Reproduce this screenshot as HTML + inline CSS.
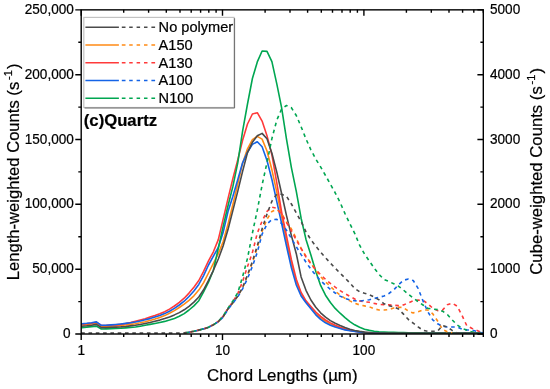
<!DOCTYPE html>
<html><head><meta charset="utf-8"><title>Chart</title>
<style>html,body{margin:0;padding:0;background:#fff;}body{width:550px;height:389px;overflow:hidden;}svg{display:block;will-change:transform;}text{font-family:"Liberation Sans",sans-serif;fill:#000;stroke:#000;stroke-width:0.22px;}</style></head><body>
<svg width="550" height="389" viewBox="0 0 550 389">
<rect width="550" height="389" fill="#fff"/>
<defs><clipPath id="c"><rect x="81.2" y="9.85" width="402.1" height="324.75"/></clipPath></defs>
<g clip-path="url(#c)" fill="none" stroke-linejoin="round" stroke-linecap="butt">
<path d="M81.2,325.0 L81.8,325.0 L86.7,324.6 L91.5,324.0 L96.4,323.2 L101.3,326.5 L106.2,326.4 L111.0,326.2 L115.9,325.9 L120.8,325.5 L125.7,325.0 L130.5,324.4 L135.4,323.7 L140.3,322.8 L145.2,321.7 L150.0,320.5 L154.9,319.1 L159.8,317.5 L164.7,315.6 L169.5,313.3 L174.4,310.6 L179.3,307.5 L184.2,304.2 L189.0,300.3 L193.9,295.8 L198.8,290.1 L203.6,282.6 L208.5,273.0 L213.4,263.3 L218.3,253.7 L223.1,241.7 L228.0,224.1 L232.9,204.4 L237.8,183.7 L242.6,163.2 L247.5,148.8 L252.4,139.6 L257.3,136.4 L262.1,139.1 L267.0,151.0 L271.9,169.8 L276.8,192.1 L281.6,216.3 L286.5,241.1 L291.4,263.9 L296.3,281.8 L301.1,293.9 L306.0,301.6 L310.9,307.6 L315.8,313.4 L320.6,318.0 L325.5,321.4 L330.4,324.0 L335.2,326.2 L340.1,327.9 L345.0,329.4 L349.9,330.4 L354.7,331.3 L359.6,332.0 L364.5,332.6 L369.4,333.0 L374.2,333.0 L379.1,333.0 L384.0,333.0 L388.9,333.0 L393.7,333.0 L398.6,333.0 L403.5,333.0 L408.4,333.0 L413.2,333.0 L418.1,333.0 L423.0,333.0 L427.9,333.0 L432.7,333.0 L437.6,333.0 L442.5,333.0 L447.3,333.0 L452.2,333.0 L457.1,333.0 L462.0,333.0 L466.8,333.0 L471.7,333.0 L476.6,333.0 L481.5,333.0 L483.0,333.0" stroke="#ff8a14" stroke-width="1.6"/>
<path d="M81.2,324.2 L81.8,324.2 L86.7,323.8 L91.5,323.2 L96.4,322.2 L101.3,325.5 L106.2,325.4 L111.0,325.1 L115.9,324.9 L120.8,324.4 L125.7,323.6 L130.5,322.6 L135.4,321.4 L140.3,320.1 L145.2,318.7 L150.0,317.1 L154.9,315.5 L159.8,313.7 L164.7,311.7 L169.5,309.1 L174.4,306.0 L179.3,302.4 L184.2,298.2 L189.0,293.1 L193.9,287.3 L198.8,280.5 L203.6,271.4 L208.5,260.9 L213.4,251.8 L218.3,239.6 L223.1,219.4 L228.0,198.6 L232.9,178.4 L237.8,159.8 L242.6,140.3 L247.5,124.0 L252.4,114.0 L257.3,112.7 L262.1,121.1 L267.0,135.8 L271.9,154.9 L276.8,182.8 L281.6,211.8 L286.5,236.0 L291.4,259.7 L296.3,279.2 L301.1,292.4 L306.0,300.9 L310.9,306.5 L315.8,312.0 L320.6,316.4 L325.5,320.0 L330.4,322.9 L335.2,325.2 L340.1,327.2 L345.0,328.8 L349.9,330.1 L354.7,331.1 L359.6,331.9 L364.5,332.5 L369.4,333.0 L374.2,333.0 L379.1,333.0 L384.0,333.0 L388.9,333.0 L393.7,333.0 L398.6,333.0 L403.5,333.0 L408.4,333.0 L413.2,333.0 L418.1,333.0 L423.0,333.0 L427.9,333.0 L432.7,333.0 L437.6,333.0 L442.5,333.0 L447.3,333.0 L452.2,333.0 L457.1,333.0 L462.0,333.0 L466.8,333.0 L471.7,333.0 L476.6,333.0 L481.5,333.0 L483.0,333.0" stroke="#ff3a3a" stroke-width="1.6"/>
<path d="M81.2,323.7 L81.8,323.7 L86.7,323.3 L91.5,322.7 L96.4,321.9 L101.3,325.3 L106.2,325.2 L111.0,324.9 L115.9,324.5 L120.8,324.0 L125.7,323.4 L130.5,322.8 L135.4,322.0 L140.3,321.0 L145.2,319.8 L150.0,318.6 L154.9,317.1 L159.8,315.5 L164.7,313.6 L169.5,311.3 L174.4,308.4 L179.3,305.0 L184.2,301.2 L189.0,296.5 L193.9,291.0 L198.8,284.4 L203.6,275.6 L208.5,265.0 L213.4,256.1 L218.3,247.5 L223.1,232.6 L228.0,211.6 L232.9,196.3 L237.8,179.6 L242.6,162.8 L247.5,152.2 L252.4,144.4 L257.3,141.7 L262.1,146.8 L267.0,160.5 L271.9,179.5 L276.8,201.6 L281.6,223.3 L286.5,246.0 L291.4,267.9 L296.3,285.0 L301.1,296.0 L306.0,302.8 L310.9,308.7 L315.8,314.8 L320.6,319.4 L325.5,322.8 L330.4,325.2 L335.2,327.1 L340.1,328.6 L345.0,329.9 L349.9,330.8 L354.7,331.5 L359.6,332.1 L364.5,332.6 L369.4,333.0 L374.2,333.0 L379.1,333.0 L384.0,333.0 L388.9,333.0 L393.7,333.0 L398.6,333.0 L403.5,333.0 L408.4,333.0 L413.2,333.0 L418.1,333.0 L423.0,333.0 L427.9,333.0 L432.7,333.0 L437.6,333.0 L442.5,333.0 L447.3,333.0 L452.2,333.0 L457.1,333.0 L462.0,333.0 L466.8,333.0 L471.7,333.0 L476.6,333.0 L481.5,333.0 L483.0,333.0" stroke="#1463e6" stroke-width="1.6"/>
<path d="M81.2,327.6 L81.8,327.6 L86.7,327.1 L91.5,326.6 L96.4,326.1 L101.3,329.0 L106.2,328.9 L111.0,328.7 L115.9,328.5 L120.8,328.3 L125.7,327.9 L130.5,327.5 L135.4,327.0 L140.3,326.2 L145.2,325.3 L150.0,324.4 L154.9,323.5 L159.8,322.5 L164.7,321.4 L169.5,320.0 L174.4,318.4 L179.3,316.3 L184.2,313.6 L189.0,310.0 L193.9,305.9 L198.8,300.7 L203.6,291.8 L208.5,282.1 L213.4,270.2 L218.3,248.3 L223.1,226.7 L228.0,205.8 L232.9,186.4 L237.8,162.7 L242.6,131.2 L247.5,104.0 L252.4,78.5 L257.3,61.9 L262.1,51.0 L267.0,51.4 L271.9,61.7 L276.8,83.9 L281.6,107.7 L286.5,139.2 L291.4,167.6 L296.3,191.3 L301.1,218.2 L306.0,239.4 L310.9,255.1 L315.8,271.6 L320.6,285.4 L325.5,295.2 L330.4,302.5 L335.2,308.4 L340.1,313.2 L345.0,317.6 L349.9,321.6 L354.7,324.8 L359.6,327.3 L364.5,329.2 L369.4,330.4 L374.2,331.3 L379.1,331.8 L384.0,332.0 L388.9,332.2 L393.7,332.4 L398.6,332.5 L403.5,332.6 L408.4,332.7 L413.2,332.8 L418.1,332.9 L423.0,333.0 L427.9,333.0 L432.7,333.0 L437.6,333.0 L442.5,333.0 L447.3,333.0 L452.2,333.0 L457.1,333.0 L462.0,333.0 L466.8,333.0 L471.7,333.0 L476.6,333.0 L481.5,333.0 L483.0,333.0" stroke="#00a651" stroke-width="1.6"/>
<path d="M81.2,326.2 L81.8,326.2 L86.7,325.8 L91.5,325.2 L96.4,324.4 L101.3,327.6 L106.2,327.5 L111.0,327.3 L115.9,327.1 L120.8,326.9 L125.7,326.5 L130.5,325.9 L135.4,325.3 L140.3,324.5 L145.2,323.5 L150.0,322.5 L154.9,321.3 L159.8,320.1 L164.7,318.6 L169.5,316.9 L174.4,314.9 L179.3,312.6 L184.2,309.8 L189.0,306.3 L193.9,302.1 L198.8,297.0 L203.6,289.8 L208.5,280.4 L213.4,270.3 L218.3,259.0 L223.1,246.0 L228.0,229.6 L232.9,210.4 L237.8,191.1 L242.6,171.4 L247.5,152.6 L252.4,142.3 L257.3,135.8 L262.1,133.4 L267.0,138.8 L271.9,153.3 L276.8,172.1 L281.6,193.5 L286.5,215.6 L291.4,235.6 L296.3,253.7 L301.1,276.9 L306.0,290.3 L310.9,300.0 L315.8,307.2 L320.6,312.8 L325.5,317.2 L330.4,320.6 L335.2,323.3 L340.1,325.5 L345.0,327.5 L349.9,329.2 L354.7,330.5 L359.6,331.4 L364.5,332.1 L369.4,332.6 L374.2,333.0 L379.1,333.0 L384.0,333.0 L388.9,333.0 L393.7,333.0 L398.6,333.0 L403.5,333.0 L408.4,333.0 L413.2,333.0 L418.1,333.0 L423.0,333.0 L427.9,333.0 L432.7,333.0 L437.6,333.0 L442.5,333.0 L447.3,333.0 L452.2,333.0 L457.1,333.0 L462.0,333.0 L466.8,333.0 L471.7,333.0 L476.6,333.0 L481.5,333.0 L483.0,333.0" stroke="#4a4a4a" stroke-width="1.6"/>
<path d="M184.2,332.9 L189.0,332.2 L193.9,331.3 L198.8,330.1 L203.6,328.9 L208.5,327.3 L213.4,324.7 L218.3,321.6 L223.1,316.7 L228.0,308.9 L232.9,302.7 L237.8,296.1 L242.6,287.7 L247.5,275.4 L252.4,262.7 L257.3,247.5 L262.1,231.3 L267.0,219.2 L271.9,211.5 L276.8,209.5 L281.6,213.4 L286.5,222.1 L291.4,229.0 L296.3,238.5 L301.1,248.4 L306.0,256.3 L310.9,263.3 L315.8,270.4 L320.6,276.7 L325.5,281.8 L330.4,286.4 L335.2,291.0 L340.1,295.1 L345.0,298.3 L349.9,300.9 L354.7,303.2 L359.6,304.9 L364.5,305.9 L369.4,306.8 L374.2,308.9 L379.1,310.0 L384.0,310.0 L388.9,309.5 L393.7,308.0 L398.6,307.2 L403.5,307.5 L408.4,311.2 L413.2,312.9 L418.1,311.7 L423.0,310.1 L427.9,310.0 L432.7,313.7 L437.6,321.0 L442.5,329.4 L447.3,331.8 L452.2,332.9" stroke="#ff8a14" stroke-width="1.6" stroke-dasharray="3.6 3.7" stroke-dashoffset="1.6"/>
<path d="M184.2,332.9 L189.0,332.2 L193.9,331.3 L198.8,330.1 L203.6,328.9 L208.5,327.3 L213.4,324.7 L218.3,321.5 L223.1,316.2 L228.0,308.4 L232.9,301.7 L237.8,293.6 L242.6,281.5 L247.5,266.6 L252.4,252.6 L257.3,233.1 L262.1,221.1 L267.0,211.4 L271.9,207.2 L276.8,208.3 L281.6,214.6 L286.5,222.4 L291.4,231.2 L296.3,240.0 L301.1,248.5 L306.0,257.0 L310.9,263.8 L315.8,269.6 L320.6,274.7 L325.5,279.3 L330.4,283.5 L335.2,287.2 L340.1,290.6 L345.0,293.7 L349.9,296.4 L354.7,299.0 L359.6,300.9 L364.5,301.7 L369.4,302.3 L374.2,303.4 L379.1,304.4 L384.0,304.7 L388.9,304.9 L393.7,305.3 L398.6,305.6 L403.5,304.9 L408.4,302.8 L413.2,300.8 L418.1,300.1 L423.0,300.4 L427.9,303.8 L432.7,308.2 L437.6,310.6 L442.5,310.1 L447.3,304.7 L452.2,303.2 L457.1,306.1 L462.0,315.3 L466.8,325.7 L471.7,328.3 L476.6,330.3 L481.5,332.4 L483.4,333.0" stroke="#ff3a3a" stroke-width="1.6" stroke-dasharray="3.6 3.7" stroke-dashoffset="3.2"/>
<path d="M184.2,332.9 L189.0,332.2 L193.9,331.3 L198.8,330.1 L203.6,328.9 L208.5,327.3 L213.4,324.7 L218.3,321.7 L223.1,317.2 L228.0,309.4 L232.9,303.2 L237.8,296.8 L242.6,288.8 L247.5,278.6 L252.4,266.4 L257.3,252.2 L262.1,234.1 L267.0,224.0 L271.9,219.6 L276.8,219.4 L281.6,223.5 L286.5,230.3 L291.4,238.5 L296.3,246.7 L301.1,254.6 L306.0,262.2 L310.9,269.2 L315.8,275.3 L320.6,280.6 L325.5,285.2 L330.4,289.3 L335.2,293.0 L340.1,296.1 L345.0,298.4 L349.9,300.0 L354.7,300.8 L359.6,301.0 L364.5,300.5 L369.4,299.8 L374.2,298.5 L379.1,297.3 L384.0,296.0 L388.9,293.5 L393.7,290.0 L398.6,284.7 L403.5,280.3 L408.4,279.0 L413.2,280.5 L418.1,288.4 L423.0,300.9 L427.9,311.9 L432.7,319.8 L437.6,323.8 L442.5,326.2 L447.3,327.0 L452.2,327.0 L457.1,327.1 L462.0,329.0 L466.8,329.9 L471.7,330.0 L476.6,331.3 L481.5,332.8 L483.4,333.0" stroke="#1463e6" stroke-width="1.6" stroke-dasharray="3.6 3.7" stroke-dashoffset="4.8"/>
<path d="M184.2,332.9 L189.0,332.2 L193.9,331.3 L198.8,330.1 L203.6,328.9 L208.5,327.3 L213.4,324.8 L218.3,321.4 L223.1,316.0 L228.0,308.1 L232.9,301.0 L237.8,292.7 L242.6,276.6 L247.5,258.3 L252.4,233.1 L257.3,210.2 L262.1,185.0 L267.0,162.5 L271.9,138.6 L276.8,120.1 L281.6,109.1 L286.5,105.5 L291.4,107.8 L296.3,115.5 L301.1,126.7 L306.0,139.0 L310.9,149.8 L315.8,159.1 L320.6,166.9 L325.5,175.5 L330.4,184.2 L335.2,192.8 L340.1,202.5 L345.0,213.6 L349.9,223.8 L354.7,233.4 L359.6,245.1 L364.5,254.0 L369.4,261.1 L374.2,268.1 L379.1,274.5 L384.0,279.5 L388.9,281.5 L393.7,283.7 L398.6,286.3 L403.5,290.1 L408.4,294.3 L413.2,298.0 L418.1,301.6 L423.0,305.0 L427.9,308.3 L432.7,309.2 L437.6,309.6 L442.5,311.2 L447.3,314.5 L452.2,319.9 L457.1,324.9 L462.0,328.1 L466.8,330.3 L471.7,331.9 L476.6,332.8 L481.5,333.0 L483.4,333.0" stroke="#00a651" stroke-width="1.6" stroke-dasharray="3.6 3.7" stroke-dashoffset="6.2"/>
<path d="M81.2,333.0 L81.8,333.0 L86.7,333.0 L91.5,333.0 L96.4,333.0 L101.3,333.0 L106.2,333.0 L111.0,333.0 L115.9,333.0 L120.8,333.0 L125.7,333.0 L130.5,333.0 L135.4,333.0 L140.3,333.0 L145.2,333.0 L150.0,333.0 L154.9,333.0 L159.8,333.0 L164.7,333.0 L169.5,333.0 L174.4,333.0 L179.3,333.0 L184.2,332.9 L189.0,332.2 L193.9,331.3 L198.8,330.1 L203.6,328.9 L208.5,327.3 L213.4,324.7 L218.3,321.6 L223.1,316.7 L228.0,308.9 L232.9,302.7 L237.8,296.1 L242.6,287.6 L247.5,274.9 L252.4,261.6 L257.3,245.7 L262.1,228.8 L267.0,214.0 L271.9,201.2 L276.8,194.2 L281.6,194.2 L286.5,196.3 L291.4,204.0 L296.3,213.0 L301.1,221.5 L306.0,231.8 L310.9,239.8 L315.8,246.2 L320.6,252.1 L325.5,257.7 L330.4,263.1 L335.2,268.2 L340.1,273.2 L345.0,278.0 L349.9,283.0 L354.7,288.5 L359.6,291.7 L364.5,293.3 L369.4,294.7 L374.2,297.1 L379.1,299.9 L384.0,303.8 L388.9,305.8 L393.7,306.9 L398.6,309.1 L403.5,314.1 L408.4,319.5 L413.2,323.2 L418.1,326.9 L423.0,330.3 L427.9,331.3 L432.7,331.3 L437.6,331.1 L442.5,325.5 L447.3,327.1 L452.2,330.4 L457.1,332.9 L462.0,333.0 L466.8,333.0 L471.7,333.0 L476.6,333.0 L481.5,333.0 L483.4,333.0" stroke="#4a4a4a" stroke-width="1.6" stroke-dasharray="3.6 3.7" stroke-dashoffset="0"/>
</g>
<g stroke="#000" stroke-width="1.4" fill="none" stroke-linecap="butt">
<rect x="81.2" y="9.85" width="402.1" height="324.15"/>
<path d="M75.3,334.0H81.2 M477.4,334.0H483.3 M78.3,301.6H81.2 M480.4,301.6H483.3 M75.3,269.2H81.2 M477.4,269.2H483.3 M78.3,236.8H81.2 M480.4,236.8H483.3 M75.3,204.3H81.2 M477.4,204.3H483.3 M78.3,171.9H81.2 M480.4,171.9H483.3 M75.3,139.5H81.2 M477.4,139.5H483.3 M78.3,107.1H81.2 M480.4,107.1H483.3 M75.3,74.7H81.2 M477.4,74.7H483.3 M78.3,42.3H81.2 M480.4,42.3H483.3 M75.3,9.9H81.2 M477.4,9.9H483.3 M81.2,334.0v5.9 M81.2,9.85v5.9 M123.7,334.0v2.9 M123.7,9.85v2.9 M148.6,334.0v2.9 M148.6,9.85v2.9 M166.3,334.0v2.9 M166.3,9.85v2.9 M180.0,334.0v2.9 M180.0,9.85v2.9 M191.2,334.0v2.9 M191.2,9.85v2.9 M200.6,334.0v2.9 M200.6,9.85v2.9 M208.8,334.0v2.9 M208.8,9.85v2.9 M216.1,334.0v2.9 M216.1,9.85v2.9 M222.5,334.0v5.9 M222.5,9.85v5.9 M265.1,334.0v2.9 M265.1,9.85v2.9 M290.0,334.0v2.9 M290.0,9.85v2.9 M307.6,334.0v2.9 M307.6,9.85v2.9 M321.3,334.0v2.9 M321.3,9.85v2.9 M332.5,334.0v2.9 M332.5,9.85v2.9 M342.0,334.0v2.9 M342.0,9.85v2.9 M350.2,334.0v2.9 M350.2,9.85v2.9 M357.4,334.0v2.9 M357.4,9.85v2.9 M363.9,334.0v5.9 M363.9,9.85v5.9 M406.4,334.0v2.9 M406.4,9.85v2.9 M431.3,334.0v2.9 M431.3,9.85v2.9 M449.0,334.0v2.9 M449.0,9.85v2.9 M462.6,334.0v2.9 M462.6,9.85v2.9 M473.8,334.0v2.9 M473.8,9.85v2.9 M483.3,334.0v2.9 M483.3,9.85v2.9"/>
</g>
<text transform="translate(70.6,338.1) scale(1,1.05)" font-size="13.6" text-anchor="end">0</text>
<text transform="translate(490.0,338.1) scale(1,1.05)" font-size="13.6" text-anchor="start">0</text>
<text transform="translate(73.9,273.3) scale(1,1.05)" font-size="13.6" text-anchor="end">50,000</text>
<text transform="translate(490.0,273.3) scale(1,1.05)" font-size="13.6" text-anchor="start">1000</text>
<text transform="translate(73.9,208.4) scale(1,1.05)" font-size="13.6" text-anchor="end">100,000</text>
<text transform="translate(490.0,208.4) scale(1,1.05)" font-size="13.6" text-anchor="start">2000</text>
<text transform="translate(73.9,143.6) scale(1,1.05)" font-size="13.6" text-anchor="end">150,000</text>
<text transform="translate(490.0,143.6) scale(1,1.05)" font-size="13.6" text-anchor="start">3000</text>
<text transform="translate(73.9,78.8) scale(1,1.05)" font-size="13.6" text-anchor="end">200,000</text>
<text transform="translate(490.0,78.8) scale(1,1.05)" font-size="13.6" text-anchor="start">4000</text>
<text transform="translate(73.9,14.0) scale(1,1.05)" font-size="13.6" text-anchor="end">250,000</text>
<text transform="translate(490.0,14.0) scale(1,1.05)" font-size="13.6" text-anchor="start">5000</text>
<text transform="translate(81.2,354.6) scale(1,1.05)" font-size="13.6" text-anchor="middle">1</text>
<text transform="translate(222.5,354.6) scale(1,1.05)" font-size="13.6" text-anchor="middle">10</text>
<text transform="translate(363.9,354.6) scale(1,1.05)" font-size="13.6" text-anchor="middle">100</text>
<text x="282.3" y="381.4" font-size="16.9" text-anchor="middle">Chord Lengths (µm)</text>
<text transform="translate(19.3,280.3) rotate(-90)" font-size="16.62" text-anchor="start">Length-weighted Counts (s<tspan font-size="11" dx="1.8" dy="-7.5">-1</tspan><tspan dx="1.2" dy="7.5">)</tspan></text>
<text transform="translate(542.0,274.7) rotate(-90)" font-size="16.72" text-anchor="start">Cube-weighted Counts (s<tspan font-size="11" dx="1.8" dy="-7.5">-1</tspan><tspan dx="1.2" dy="7.5">)</tspan></text>
<rect x="83.8" y="17.4" width="150.3" height="90.1" fill="#fff" stroke="#c2c2c2" stroke-width="1.2"/>
<path d="M234.6,18.2V108.0H84.6" fill="none" stroke="#6c6c6c" stroke-width="1"/>
<path d="M85.4,27.3H118.9" stroke="#4a4a4a" stroke-width="1.6" fill="none"/>
<path d="M121.8,27.3h3.7m3.7,0h3.5m3.9,0h3.5m3.9,0h3.5m3.9,0h3.7" stroke="#4a4a4a" stroke-width="1.6" fill="none"/>
<text x="158.6" y="32.2" font-size="14.6">No polymer</text>
<path d="M85.4,45.0H118.9" stroke="#ff8a14" stroke-width="1.6" fill="none"/>
<path d="M121.8,45.0h3.7m3.7,0h3.5m3.9,0h3.5m3.9,0h3.5m3.9,0h3.7" stroke="#ff8a14" stroke-width="1.6" fill="none"/>
<text x="158.6" y="49.9" font-size="14.6">A150</text>
<path d="M85.4,62.8H118.9" stroke="#ff3a3a" stroke-width="1.6" fill="none"/>
<path d="M121.8,62.8h3.7m3.7,0h3.5m3.9,0h3.5m3.9,0h3.5m3.9,0h3.7" stroke="#ff3a3a" stroke-width="1.6" fill="none"/>
<text x="158.6" y="67.7" font-size="14.6">A130</text>
<path d="M85.4,80.5H118.9" stroke="#1463e6" stroke-width="1.6" fill="none"/>
<path d="M121.8,80.5h3.7m3.7,0h3.5m3.9,0h3.5m3.9,0h3.5m3.9,0h3.7" stroke="#1463e6" stroke-width="1.6" fill="none"/>
<text x="158.6" y="85.4" font-size="14.6">A100</text>
<path d="M85.4,98.3H118.9" stroke="#00a651" stroke-width="1.6" fill="none"/>
<path d="M121.8,98.3h3.7m3.7,0h3.5m3.9,0h3.5m3.9,0h3.5m3.9,0h3.7" stroke="#00a651" stroke-width="1.6" fill="none"/>
<text x="158.6" y="103.2" font-size="14.6">N100</text>
<text x="83.8" y="126" font-size="16.7" font-weight="bold" stroke="none">(c)Quartz</text>
</svg></body></html>
